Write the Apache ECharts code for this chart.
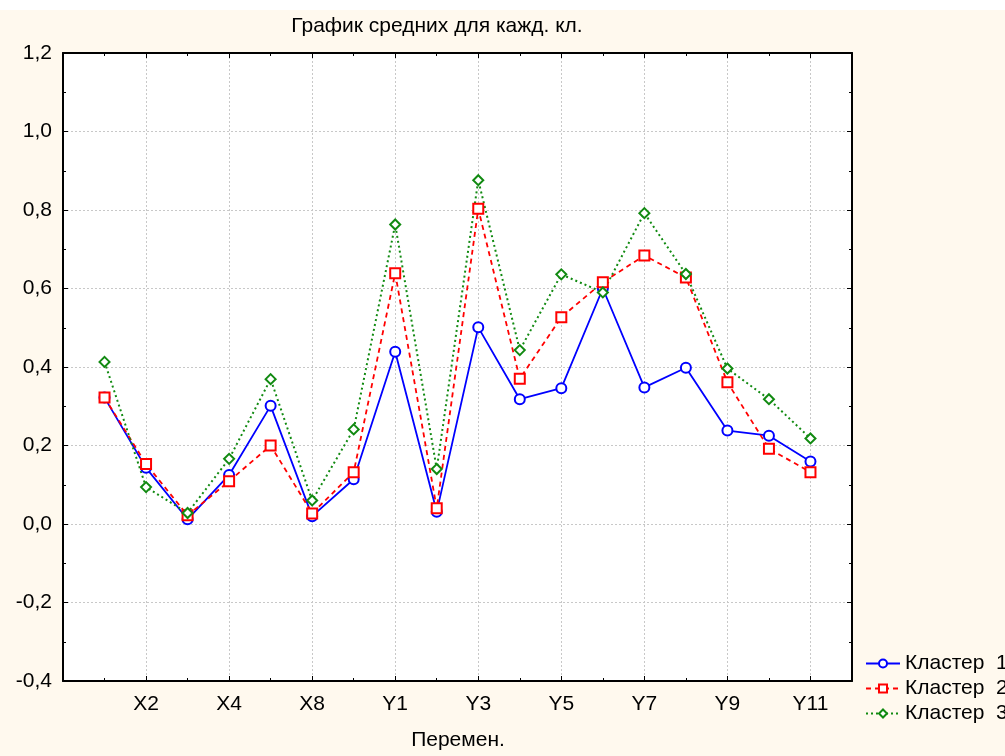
<!DOCTYPE html>
<html><head><meta charset="utf-8">
<script src="https://cdn.jsdelivr.net/npm/echarts@6/dist/echarts.min.js"></script>
<style>html,body{margin:0;padding:0;background:#fff}
#c{width:1005px;height:756px;background:linear-gradient(#fff 0,#fff 10px,#FFF9EE 10px,#FFF9EE 100%);}
</style></head><body><div id="c"></div>
<script>
const categories = ['X1','X2','X3','X4','X6','X8','X9','Y1','Y2','Y3','Y4','Y5','Y6','Y7','Y8','Y9','Y10','Y11'];
const cluster1 = [0.322,0.143,0.012,0.125,0.301,0.020,0.114,0.439,0.031,0.501,0.318,0.346,0.600,0.348,0.398,0.238,0.225,0.159];
const cluster2 = [0.322,0.153,0.022,0.109,0.200,0.027,0.132,0.639,0.040,0.803,0.370,0.527,0.616,0.684,0.628,0.361,0.192,0.132];
const cluster3 = [0.413,0.094,0.028,0.166,0.369,0.060,0.241,0.763,0.140,0.876,0.443,0.636,0.590,0.792,0.637,0.396,0.318,0.218];
const seriesNames = ['Кластер  1','Кластер  2','Кластер  3'];
const titleText = 'График средних для кажд. кл.';
const xName = 'Перемен.';

const FONT = 'Liberation Sans';
const FS = 21;
const chart = echarts.init(document.getElementById('c'), null, {renderer:'canvas'});
const gridRect = {left:63, top:53, right:153, bottom:75};
const toPairs = arr => arr.map((v,i)=>[i,v]);
const fmtY = v => Math.abs(v) < 1e-9 ? '0,0' : v.toFixed(1).replace('.', ',');
const fmtX = v => (Number.isInteger(v) && v >= 0 && v < categories.length) ? categories[v] : '';
const splitStyle = {show:true, lineStyle:{color:'#c8c8c8', type:[2,2], width:1}};
const lineBlack = {show:true, onZero:false, lineStyle:{color:'#000', width:2}};
const noLine = {show:false, onZero:false};

const option = {
  animation:false,
  grid:[
    Object.assign({show:true, backgroundColor:'#fff', borderWidth:0}, gridRect),
    Object.assign({show:false}, gridRect)
  ],
  graphic:[
    {type:'text', x:437, y:26, style:{text:titleText, font:FS+'px "'+FONT+'"', fill:'#000', textAlign:'center', textVerticalAlign:'middle'}},
    {type:'text', x:458, y:740, style:{text:xName, font:FS+'px "'+FONT+'"', fill:'#000', textAlign:'center', textVerticalAlign:'middle'}}
  ],
  legend:{
    data:seriesNames, orient:'vertical', left:860, top:648,
    itemWidth:34, itemHeight:10, itemGap:4,
    textStyle:{fontSize:FS, lineHeight:21, fontFamily:FONT, color:'#000'}
  },
  xAxis:[
    {type:'value', gridIndex:0, position:'bottom', min:-1, max:18, interval:2,
     axisLine:lineBlack, axisTick:{show:true, inside:true, length:5, lineStyle:{color:'#000'}},
     axisLabel:{formatter:fmtX, fontSize:FS, fontFamily:FONT, color:'#000', margin:13, showMinLabel:false, showMaxLabel:false},
     splitLine:splitStyle},
    {type:'value', gridIndex:0, position:'top', min:-1, max:18, interval:2,
     axisLine:lineBlack, axisTick:{show:true, inside:true, length:5, lineStyle:{color:'#000'}},
     axisLabel:{show:false}, splitLine:{show:false}},
    {type:'value', gridIndex:1, position:'bottom', min:-1, max:18, interval:1,
     axisLine:noLine, axisTick:{show:true, inside:true, length:3, lineStyle:{color:'#000'}},
     axisLabel:{show:false}, splitLine:{show:false}},
    {type:'value', gridIndex:1, position:'top', min:-1, max:18, interval:1,
     axisLine:noLine, axisTick:{show:true, inside:true, length:3, lineStyle:{color:'#000'}},
     axisLabel:{show:false}, splitLine:{show:false}}
  ],
  yAxis:[
    {type:'value', gridIndex:0, position:'left', min:-0.4, max:1.2, interval:0.2,
     axisLine:lineBlack, axisTick:{show:true, inside:true, length:5, lineStyle:{color:'#000'}},
     minorTick:{show:true, splitNumber:2, length:3, lineStyle:{color:'#000'}},
     axisLabel:{formatter:fmtY, fontSize:FS, fontFamily:FONT, color:'#000', margin:11},
     splitLine:splitStyle},
    {type:'value', gridIndex:0, position:'right', min:-0.4, max:1.2, interval:0.2,
     axisLine:lineBlack, axisTick:{show:true, inside:true, length:5, lineStyle:{color:'#000'}},
     minorTick:{show:true, splitNumber:2, length:3, lineStyle:{color:'#000'}},
     axisLabel:{show:false}, splitLine:{show:false}},
    {type:'value', gridIndex:1, min:-0.4, max:1.2, show:false, axisLine:noLine}
  ],
  series:[
    {name:seriesNames[0], type:'line', xAxisIndex:0, yAxisIndex:0, data:toPairs(cluster1),
     color:'#0000ff', symbol:'emptyCircle', symbolSize:10,
     lineStyle:{width:1.8, type:'solid'}, itemStyle:{borderWidth:1.6}},
    {name:seriesNames[1], type:'line', xAxisIndex:0, yAxisIndex:0, data:toPairs(cluster2),
     color:'#ff0000', symbol:'emptyRect', symbolSize:10,
     lineStyle:{width:1.8, type:[5,4]}, itemStyle:{borderWidth:2}},
    {name:seriesNames[2], type:'line', xAxisIndex:0, yAxisIndex:0, data:toPairs(cluster3),
     color:'#118a11', symbol:'emptyDiamond', symbolSize:10,
     lineStyle:{width:2, type:[2,3]}, itemStyle:{borderWidth:1.5}}
  ]
};
chart.setOption(option);
</script></body></html>
